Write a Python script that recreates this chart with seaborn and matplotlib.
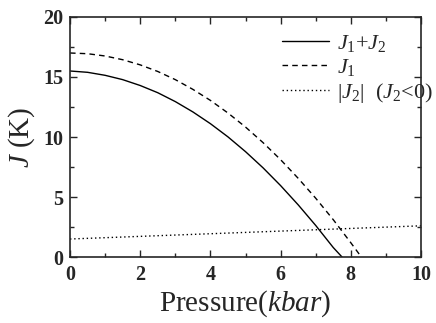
import matplotlib
matplotlib.use('Agg')
import matplotlib.pyplot as plt
import pandas as pd
import seaborn as sns
from matplotlib.ticker import MultipleLocator

# Valores (J em K, pressão em kbar)
pressure_sum = [0, 0.5, 1, 1.5, 2, 2.5, 3, 3.5, 4, 4.5, 5, 5.5, 6, 6.5, 7, 7.5, 7.75]
j_sum = [15.5, 15.39, 15.14, 14.78, 14.29, 13.69, 12.95, 12.09, 11.11, 10.01,
         8.78, 7.43, 5.95, 4.35, 2.63, 0.79, 0.0]

pressure_j1 = [0, 0.5, 1, 1.5, 2, 2.5, 3, 3.5, 4, 4.5, 5, 5.5, 6, 6.5, 7, 7.5, 8, 8.3]
j1 = [17.0, 16.94, 16.75, 16.44, 16.01, 15.46, 14.78, 13.97, 13.05, 12.0,
      10.83, 9.53, 8.11, 6.56, 4.90, 3.11, 1.19, 0.0]

pressure_j2 = [0, 10]
j2_abs = [1.5, 2.6]

labels = [r'$J_1$+$J_2$', r'$J_1$', r'$|J_2|$  ($J_2$<0)']

sns.set_style('ticks')
plt.rcParams['font.family'] = ['Liberation Serif', 'DejaVu Serif']
plt.rcParams['mathtext.fontset'] = 'custom'
plt.rcParams['mathtext.rm'] = 'Liberation Serif'
plt.rcParams['mathtext.it'] = 'Liberation Serif:italic'
plt.rcParams['mathtext.bf'] = 'Liberation Serif:bold'

fig = plt.figure(figsize=(4.36, 3.23), dpi=100)
ax = fig.add_axes([0.1606, 0.2043, 0.805, 0.7431])

sns.lineplot(x=pressure_sum, y=j_sum, ax=ax, color='black', linewidth=1.0,
             linestyle='-', label=labels[0])
sns.lineplot(x=pressure_j1, y=j1, ax=ax, color='black', linewidth=1.0,
             linestyle=(0, (4, 3)), label=labels[1])
sns.lineplot(x=pressure_j2, y=j2_abs, ax=ax, color='black', linewidth=1.0,
             linestyle=(0, (1, 2)), label=labels[2])

ax.set_xlim(0, 10)
ax.set_ylim(0, 20)
ax.xaxis.set_major_locator(MultipleLocator(2))
ax.xaxis.set_minor_locator(MultipleLocator(1))
ax.yaxis.set_major_locator(MultipleLocator(5))
ax.yaxis.set_minor_locator(MultipleLocator(2.5))
ax.tick_params(which='both', direction='in', top=True, right=True, width=1.0)
ax.tick_params(which='major', length=5, labelsize=14.5)
ax.tick_params(axis='x', which='major', pad=6)
ax.tick_params(axis='y', which='major', pad=5)
ax.tick_params(which='minor', length=3)
for lbl in ax.get_xticklabels() + ax.get_yticklabels():
    lbl.set_fontweight('bold')
for sp in ax.spines.values():
    sp.set_linewidth(1.2)

ax.set_xlabel(r'Pressure($kbar$)', fontsize=21, labelpad=2)
ax.set_ylabel(r'$J$ (K)', fontsize=21, labelpad=4)

leg = ax.legend(loc='upper left', frameon=False, fontsize=16, handlelength=2.1,
                labelspacing=0.15, borderpad=0, borderaxespad=0,
                handletextpad=0.35, bbox_to_anchor=(0.605, 0.935))

fig.savefig('out.png', dpi=100)
